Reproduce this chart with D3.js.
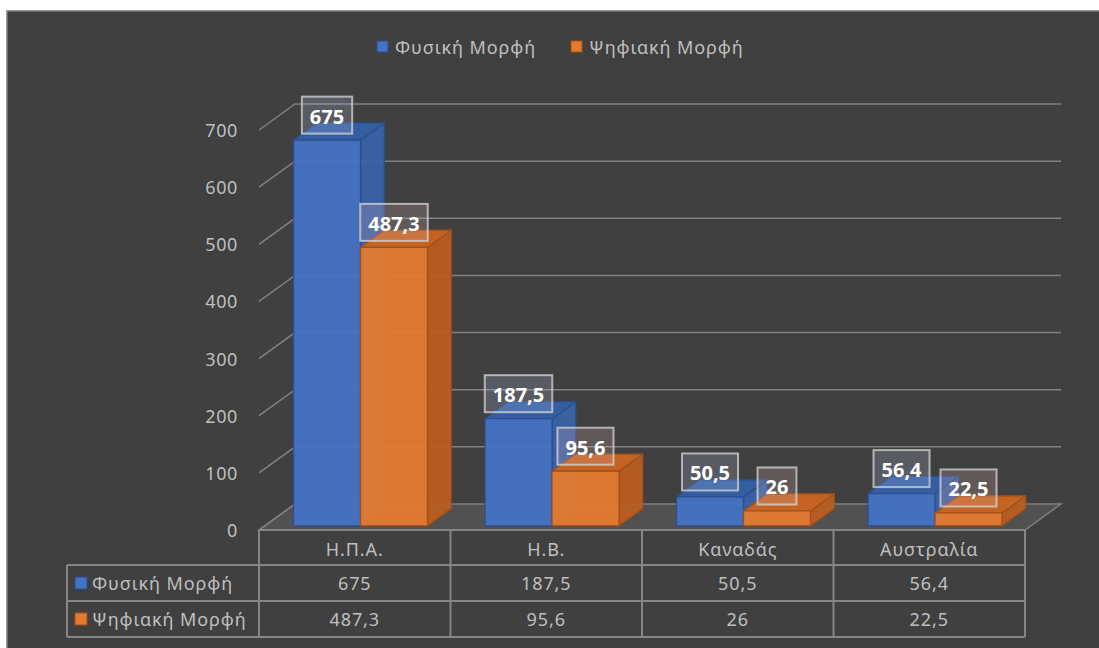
<!DOCTYPE html>
<html>
<head>
<meta charset="utf-8">
<script src="https://cdn.jsdelivr.net/npm/d3@7"></script>
<style>
html,body{margin:0;padding:0;background:#fff;}
svg{display:block;}
</style>
</head>
<body>
<svg id="chart" width="1099" height="648"></svg>
<script>
// ---- data ----
const categories = ["Η.Π.Α.", "Η.Β.", "Καναδάς", "Αυστραλία"];
const seriesNames = ["Φυσική Μορφή", "Ψηφιακή Μορφή"];
const physical = [675, 187.5, 50.5, 56.4];
const digital = [487.3, 95.6, 26, 22.5];
const yTicks = [0, 100, 200, 300, 400, 500, 600, 700];

const seriesValues = [physical, digital];
const fmt = v => String(v).replace(".", ",");

const colors = [
  {front:"#4472C4", top:"#3560a8", side:"#3a62a8", edge:"#2c4f8c", label:"rgba(185,198,235,0.2)"},
  {front:"#E47A30", top:"#c96522", side:"#b95d20", edge:"#a14f17", label:"rgba(230,185,185,0.2)"}
];

const svg = d3.select("#chart");
const FONT = "'Noto Sans', 'DejaVu Sans', sans-serif";

// panel
svg.append("rect").attr("x", 7).attr("y", 11).attr("width", 1099).attr("height", 648)
  .attr("fill", "#404040").attr("stroke", "#7a7a7a").attr("stroke-width", 1.5);

// scales
const x0 = d3.scaleBand().domain(categories).range([259, 1025]).paddingInner(0).paddingOuter(0);
const x1 = d3.scaleBand().domain(seriesNames).range([0, x0.bandwidth()]).paddingInner(0).paddingOuter(0.43);
const y = d3.scaleLinear().domain([0, 700]).range([530, 130]);

const DX = 36, DY = -26;
const P = (x, v, z) => [x + z * DX, y(v) + z * DY];
const ptsStr = arr => arr.map(p => p.join(",")).join(" ");

const xL = x0.range()[0], xR = x0.range()[1];

// floor
svg.append("polygon")
  .attr("points", ptsStr([P(xL,0,0), P(xR,0,0), P(xR,0,1), P(xL,0,1)]))
  .attr("fill", "#515151").attr("stroke", "#7f7f7f").attr("stroke-width", 1.5);

// gridlines (back wall + side diagonals)
const grid = svg.append("g").attr("stroke", "#808080").attr("stroke-width", 1.5).attr("fill", "none");
yTicks.forEach(t => {
  const a = P(xL, t, 0), b = P(xL, t, 1), c = P(xR, t, 1);
  grid.append("polyline").attr("points", ptsStr(t === 0 ? [a, b] : [a, b, c]));
});

// y tick labels
svg.append("g").selectAll("text").data(yTicks).join("text")
  .attr("x", 238).attr("y", d => y(d))
  .attr("text-anchor", "end").attr("dominant-baseline", "central")
  .attr("fill", "#bfbfbf").attr("font-family", FONT).attr("font-size", 18).attr("letter-spacing", 0.6)
  .text(d => d);

// bars
const Z0 = 0.16, Z1 = 0.82;
const bars = svg.append("g");
const labels = svg.append("g");
categories.forEach((cat, ci) => {
  seriesNames.forEach((s, si) => {
    const v = seriesValues[si][ci];
    const c = colors[si];
    const xa = x0(cat) + x1(s), xb = xa + x1.bandwidth();
    const g = bars.append("g").attr("stroke", c.edge).attr("stroke-width", 1.2).attr("stroke-linejoin", "round");
    // right side
    g.append("polygon").attr("points", ptsStr([P(xb,0,Z0), P(xb,0,Z1), P(xb,v,Z1), P(xb,v,Z0)]))
      .attr("fill", c.side).attr("fill-opacity", 0.95);
    // top
    g.append("polygon").attr("points", ptsStr([P(xa,v,Z0), P(xb,v,Z0), P(xb,v,Z1), P(xa,v,Z1)]))
      .attr("fill", c.top).attr("fill-opacity", 0.95);
    // front
    g.append("polygon").attr("points", ptsStr([P(xa,0,Z0), P(xb,0,Z0), P(xb,v,Z0), P(xa,v,Z0)]))
      .attr("fill", c.front).attr("fill-opacity", 0.95);

    // data label
    const fc = P((xa + xb) / 2, v, Z0);
    const cx = fc[0], cy = fc[1] - 25;
    const lg = labels.append("g");
    const rect = lg.append("rect");
    const txt = lg.append("text").attr("x", cx).attr("y", cy + 1)
      .attr("text-anchor", "middle").attr("dominant-baseline", "central")
      .attr("fill", "#ffffff").attr("font-family", FONT).attr("font-weight", "bold").attr("font-size", 20)
      .text(fmt(v));
    const w = txt.node().getComputedTextLength() + 16, h = 37;
    rect.attr("x", cx - w / 2).attr("y", cy - h / 2).attr("width", w).attr("height", h)
      .attr("fill", c.label).attr("stroke", "rgba(215,215,215,0.75)").attr("stroke-width", 2);
  });
});

// legend
const legend = svg.append("g");
const legendItems = [{x: 377, name: seriesNames[0], c: colors[0]}, {x: 571, name: seriesNames[1], c: colors[1]}];
legendItems.forEach(it => {
  legend.append("rect").attr("x", it.x).attr("y", 41).attr("width", 11).attr("height", 11)
    .attr("fill", it.c.front).attr("stroke", it.c.edge).attr("stroke-width", 1);
  legend.append("text").attr("x", it.x + 18).attr("y", 47).attr("dominant-baseline", "central")
    .attr("fill", "#bfbfbf").attr("font-family", FONT).attr("font-size", 18).attr("letter-spacing", 0.9).text(it.name);
});

// data table
const tbl = svg.append("g").attr("stroke", "#858585").attr("stroke-width", 2).attr("fill", "none");
const rowY = [530, 565, 601, 637];
const tLeft = 67;
tbl.append("line").attr("x1", xL).attr("x2", xR).attr("y1", rowY[0]).attr("y2", rowY[0]);
[1, 2, 3].forEach(i => tbl.append("line").attr("x1", tLeft).attr("x2", xR).attr("y1", rowY[i]).attr("y2", rowY[i]));
const colEdges = categories.map(cat => x0(cat)).concat([xR]);
colEdges.forEach(xe => tbl.append("line").attr("x1", xe).attr("x2", xe).attr("y1", rowY[0]).attr("y2", rowY[3]));
tbl.append("line").attr("x1", tLeft).attr("x2", tLeft).attr("y1", rowY[1]).attr("y2", rowY[3]);

const tt = svg.append("g").attr("fill", "#bfbfbf").attr("font-family", FONT).attr("font-size", 18)
  .attr("letter-spacing", 0.9).attr("dominant-baseline", "central");
categories.forEach((cat, ci) => {
  const cx = x0(cat) + x0.bandwidth() / 2;
  tt.append("text").attr("x", cx).attr("y", (rowY[0] + rowY[1]) / 2 + 1).attr("text-anchor", "middle").text(cat);
  seriesValues.forEach((vals, si) => {
    tt.append("text").attr("x", cx).attr("y", (rowY[si + 1] + rowY[si + 2]) / 2).attr("text-anchor", "middle").text(fmt(vals[ci]));
  });
});
seriesNames.forEach((s, si) => {
  const cy = (rowY[si + 1] + rowY[si + 2]) / 2;
  svg.append("rect").attr("x", 75).attr("y", cy - 6).attr("width", 12).attr("height", 12)
    .attr("fill", colors[si].front).attr("stroke", colors[si].edge).attr("stroke-width", 1);
  tt.append("text").attr("x", 92).attr("y", cy).text(s);
});
</script>
</body>
</html>
